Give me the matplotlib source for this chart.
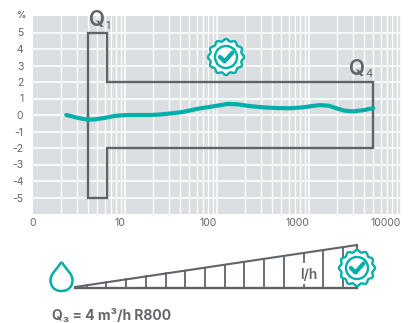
import numpy as np
import matplotlib.pyplot as plt
from matplotlib.path import Path
from matplotlib.patches import PathPatch, Circle, Polygon

plt.rcParams['font.family'] = ['Inter', 'DejaVu Sans']
plt.rcParams['axes.unicode_minus'] = False

TEAL = '#00b0a8'
GREY = '#5f6468'
TEXT = '#63676b'

# error curve, flow in l/h and error in %
flow = [2.3, 2.6, 2.9, 3.3, 3.7, 4.1, 4.6, 5.3, 6.1, 7.0, 7.9, 9.2, 11.3, 14, 18.7, 24, 31,
        42, 65, 85, 110, 131, 165, 228, 320, 450, 620, 850, 1100, 1310, 1650, 2050, 2450,
        3000, 3900, 5000]
error = [0.0, -0.07, -0.14, -0.21, -0.26, -0.28, -0.27, -0.22, -0.17, -0.1, -0.05, -0.02, 0.0,
         0.0, 0.0, 0.03, 0.09, 0.18, 0.4, 0.5, 0.6, 0.67, 0.65, 0.54, 0.46, 0.42, 0.41, 0.46,
         0.55, 0.6, 0.56, 0.38, 0.26, 0.22, 0.29, 0.42]

# permitted error envelope
limit_flow = [4, 4, 6.4, 6.4, 5000, 5000, 6.4, 6.4, 4, 4]
limit_error = [0, 5, 5, 2, 2, -2, -2, -5, -5, 0]

y_ticks = [5, 4, 3, 2, 1, 0, -1, -2, -3, -4, -5]
x_labels = ['0', '10', '100', '1000', '10000']
x_label_px = [33, 120, 208, 297, 386]

# scale under the chart, in pixels
wedge_x = [75, 357]
wedge_top = [287, 245]
wedge_bottom = 288
wedge_steps = [87, 106, 126, 146, 166, 185, 205, 225, 244, 264, 284, 323, 343]
dashed_step = 304


def badge(ax, cx, cy):
    t = np.linspace(0, 2 * np.pi, 300)
    r = 17 * (1 + 0.06 * np.cos(12 * t))
    ax.add_patch(Polygon(np.c_[cx + r * np.cos(t), cy + r * np.sin(t)], closed=True,
                         fc='white', ec=TEAL, lw=1.7, zorder=5))
    ax.add_patch(Circle((cx, cy), 11, fc='none', ec=TEAL, lw=1.7, zorder=6))
    ax.plot([cx - 6, cx - 1.5, cx + 6.5], [cy, cy + 4.5, cy - 4.5], color=TEAL, lw=3,
            solid_capstyle='round', solid_joinstyle='round', zorder=7)


fig = plt.figure(figsize=(4.12, 3.23), dpi=100)
ax = fig.add_axes([33 / 412, 1 - 214 / 323, 368 / 412, 198 / 323])
ax.set_facecolor('#dcdfe1')
ax.set_xscale('log')
ax.set_xlim(1, 10000)
ax.set_ylim(-6, 6)
ax.set_xticks([10, 100, 1000, 10000])
ax.set_xticks([m * d for d in [1, 10, 100, 1000] for m in range(2, 10)], minor=True)
ax.set_yticks(y_ticks)
ax.set_xticklabels([])
ax.set_xticklabels([], minor=True)
ax.tick_params(axis='both', which='both', length=0)
ax.tick_params(axis='y', labelsize=7.5, labelcolor=TEXT, pad=7)
ax.grid(True, which='major', color='white', lw=1.1)
ax.grid(True, which='minor', axis='x', color='white', lw=0.9)
ax.set_axisbelow(True)
for s in ax.spines.values():
    s.set_visible(False)

ax.plot(limit_flow, limit_error, color=GREY, lw=1.7, solid_joinstyle='miter')
ax.plot(flow, error, color=TEAL, lw=3, solid_capstyle='round', solid_joinstyle='round')

# overlay in image pixels for labels and icons
ov = fig.add_axes([0, 0, 1, 1])
ov.set_xlim(0, 412)
ov.set_ylim(323, 0)
ov.axis('off')
ov.patch.set_alpha(0)

ov.text(21, 15, '%', fontsize=6.5, color=TEXT, ha='center', va='center', fontweight='bold')
for px, lab in zip(x_label_px, x_labels):
    ov.text(px, 223, lab, fontsize=7.5, color=TEXT, ha='center', va='center')

ov.text(97, 20, 'Q', fontsize=15, color=GREY, ha='center', va='center', fontweight='semibold')
ov.text(108, 26, '1', fontsize=8, color=GREY, ha='center', va='center')
ov.text(357, 69.5, 'Q', fontsize=15, color=GREY, ha='center', va='center', fontweight='semibold')
ov.text(369, 74, '4', fontsize=8, color=GREY, ha='center', va='center')

badge(ov, 226, 57)

# wedge scale
slope = (wedge_top[1] - wedge_top[0]) / (wedge_x[1] - wedge_x[0])
ov.plot(wedge_x, wedge_top, color=GREY, lw=1.5)
ov.plot(wedge_x, [wedge_bottom, wedge_bottom], color=GREY, lw=1.7)
ov.plot([wedge_x[1], wedge_x[1]], [wedge_top[1], wedge_bottom], color=GREY, lw=1.5)
for x in wedge_steps:
    ov.plot([x, x], [wedge_top[0] + slope * (x - wedge_x[0]), wedge_bottom], color=GREY, lw=1.3)
dash_top = wedge_top[0] + slope * (dashed_step - wedge_x[0])
ov.plot([dashed_step, dashed_step], [dash_top, dash_top + 9], color=GREY, lw=1.3)
ov.plot([dashed_step, dashed_step], [wedge_bottom - 3, wedge_bottom], color=GREY, lw=1.3)
ov.text(309, 275, 'l/h', fontsize=10, color=TEXT, ha='center', va='center', fontweight='semibold')
badge(ov, 357, 268)

# water drop
drop = Path([(61.5, 262), (57, 269), (50.5, 274), (50.5, 280), (50.5, 287), (55, 291), (61.5, 291),
             (68, 291), (72.5, 287), (72.5, 280), (72.5, 274), (66, 269), (61.5, 262)],
            [Path.MOVETO] + [Path.CURVE4] * 12)
ov.add_patch(PathPatch(drop, fc='none', ec=TEAL, lw=1.8))

ov.text(52, 316, 'Q₃ = 4 m³/h R800', fontsize=10, color=TEXT, ha='left', va='center',
        fontweight='bold')

fig.savefig('out.png', dpi=100)
